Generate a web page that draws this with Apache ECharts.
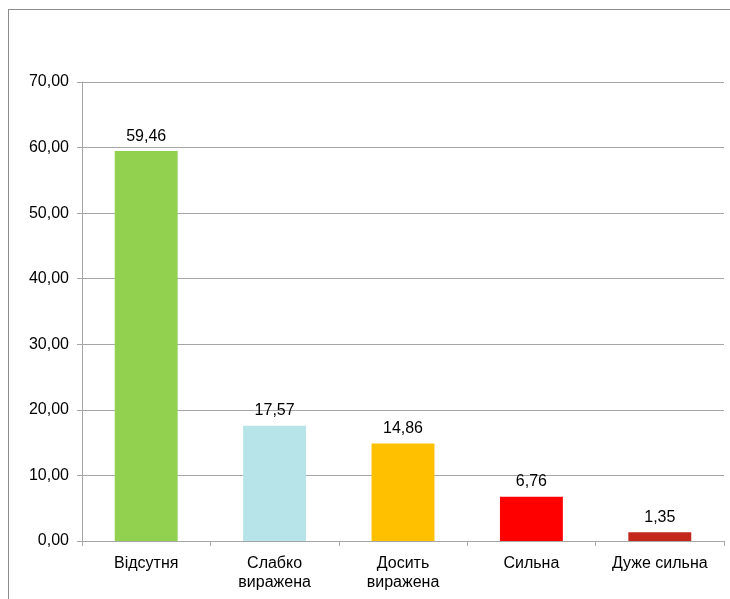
<!DOCTYPE html>
<html>
<head>
<meta charset="utf-8">
<script src="https://cdn.jsdelivr.net/npm/echarts@6/dist/echarts.min.js"></script>
<style>
  html, body { margin: 0; padding: 0; background: #fff; }
  #frame { position: absolute; left: 8px; top: 9px; width: 740px; height: 620px; border: 1px solid #8c8c8c; box-sizing: border-box; }
  #chart { position: absolute; left: 0; top: 0; width: 730px; height: 599px; }
</style>
</head>
<body>
<div id="frame"></div>
<div id="chart"></div>
<script>
const categories = ['Відсутня', 'Слабко\nвиражена', 'Досить\nвиражена', 'Сильна', 'Дуже сильна'];
const values = [59.46, 17.57, 14.86, 6.76, 1.35];
const barColors = ['#92d050', '#b6e4e8', '#ffc000', '#ff0000', '#c4281c'];
const yTicks = [0, 10, 20, 30, 40, 50, 60, 70];

const fmt = v => v.toFixed(2).replace('.', ',');
const font = 'Liberation Sans, Arial, sans-serif';

const chart = echarts.init(document.getElementById('chart'));
chart.setOption({
  animation: false,
  grid: { left: 82, right: 6, top: 82, bottom: 58 },
  xAxis: {
    type: 'category',
    data: categories,
    axisLine: { lineStyle: { color: '#a6a6a6' } },
    axisTick: { show: true, length: 5, alignWithLabel: false, lineStyle: { color: '#a6a6a6' } },
    axisLabel: { color: '#000', fontFamily: font, fontSize: 16, lineHeight: 19, margin: 13 }
  },
  yAxis: {
    type: 'value',
    min: yTicks[0],
    max: yTicks[yTicks.length - 1],
    interval: 10,
    axisLine: { show: true, lineStyle: { color: '#a6a6a6' } },
    axisTick: { show: true, length: 5, lineStyle: { color: '#a6a6a6' } },
    splitLine: { lineStyle: { color: '#a6a6a6' } },
    axisLabel: { color: '#000', fontFamily: font, fontSize: 16, margin: 13, formatter: v => fmt(v) }
  },
  series: [{
    type: 'bar',
    data: values.map((v, i) => ({ value: v, itemStyle: { color: barColors[i] } })),
    barWidth: '49%',
    label: {
      show: true,
      position: 'top',
      distance: 7,
      color: '#000',
      fontFamily: font,
      fontSize: 16,
      formatter: p => fmt(p.value)
    }
  }]
});
</script>
</body>
</html>
